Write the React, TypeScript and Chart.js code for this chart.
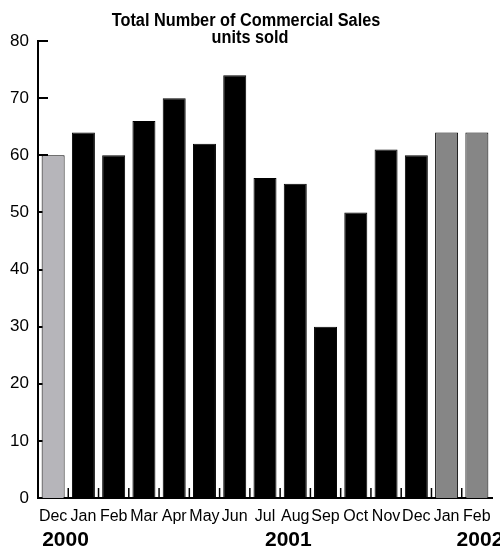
import React, { useEffect, useRef } from "react";
import { Chart, registerables } from "chart.js";

Chart.register(...registerables);

const months = ["Dec", "Jan", "Feb", "Mar", "Apr", "May", "Jun", "Jul", "Aug", "Sep", "Oct", "Nov", "Dec", "Jan", "Feb"];
const unitsSold = [60, 64, 60, 66, 70, 62, 74, 56, 55, 30, 50, 61, 60, 64, 64];
const barColors = ["#b6b5ba", "#000000", "#000000", "#000000", "#000000", "#000000", "#000000", "#000000", "#000000", "#000000", "#000000", "#000000", "#000000", "#868686", "#868686"];
const yTicks = [0, 10, 20, 30, 40, 50, 60, 70, 80];
const yearLabels = ["2000", "2001", "2002"];
const yearIndex = [0, 7, 13];
const yearOffset = [-11, 0, 10];
const titleLines = ["Total Number of Commercial Sales", "units sold"];

const FONT = "'Liberation Sans', Arial, sans-serif";

const decorPlugin = {
  id: "decor",
  beforeDatasetsDraw(chart: any) {
    const { ctx, chartArea, scales } = chart;
    const y = scales.y;
    const x = scales.x;
    ctx.save();
    ctx.strokeStyle = "#000";
    ctx.lineWidth = 2;
    yTicks.forEach((v) => {
      const py = Math.round(y.getPixelForValue(v));
      ctx.beginPath();
      ctx.moveTo(chartArea.left, py);
      ctx.lineTo(chartArea.left + 10, py);
      ctx.stroke();
    });
    ctx.lineWidth = 1.5;
    for (let i = 1; i < months.length; i++) {
      const px = (x.getPixelForValue(i - 1) + x.getPixelForValue(i)) / 2;
      ctx.beginPath();
      ctx.moveTo(px, chartArea.bottom);
      ctx.lineTo(px, chartArea.bottom - 10);
      ctx.stroke();
    }
    ctx.restore();
  },
  afterDraw(chart: any) {
    const { ctx, scales } = chart;
    const x = scales.x;
    ctx.save();
    ctx.fillStyle = "#000";
    ctx.textBaseline = "alphabetic";
    ctx.textAlign = "center";
    ctx.font = "bold 18px " + FONT;
    const sx = 0.905;
    ctx.save();
    ctx.scale(sx, 1);
    ctx.fillText(titleLines[0], 246 / sx, 26);
    ctx.fillText(titleLines[1], 250 / sx, 43);
    ctx.restore();
    ctx.textAlign = "left";
    ctx.font = "bold 21px " + FONT;
    yearLabels.forEach((t, k) => {
      const px = x.getPixelForValue(yearIndex[k]) + yearOffset[k];
      ctx.fillText(t, px, 546);
    });
    ctx.restore();
  },
};

export default function App() {
  const ref = useRef<HTMLCanvasElement | null>(null);
  useEffect(() => {
    document.body.style.margin = "0";
    const canvas = ref.current!;
    const chart = new Chart(canvas, {
      type: "bar",
      data: {
        labels: months,
        datasets: [
          {
            data: unitsSold,
            backgroundColor: barColors,
            borderColor: "#000",
            borderWidth: 1,
            barPercentage: 0.76,
            categoryPercentage: 1,
          },
        ],
      },
      options: {
        animation: false,
        responsive: false,
        maintainAspectRatio: false,
        layout: { padding: { top: 41, right: 8, bottom: 0, left: 0 } },
        plugins: { legend: { display: false }, title: { display: false }, tooltip: { enabled: false } },
        scales: {
          x: {
            grid: { display: false, drawTicks: false },
            border: { display: true, width: 2, color: "#000" },
            ticks: { color: "#000", font: { family: FONT, size: 16 }, padding: 9, maxRotation: 0, autoSkip: false },
            afterFit(s: any) {
              s.height = 50;
            },
          },
          y: {
            min: 0,
            max: 80,
            grid: { display: false, drawTicks: false },
            border: { display: true, width: 2, color: "#000" },
            ticks: { stepSize: 10, color: "#000", font: { family: FONT, size: 17 }, padding: 9 },
            afterFit(s: any) {
              s.width = 38;
            },
          },
        },
      },
      plugins: [decorPlugin],
    });
    return () => chart.destroy();
  }, []);
  return <canvas ref={ref} width={500} height={548} style={{ display: "block", width: 500, height: 548 }} />;
}
